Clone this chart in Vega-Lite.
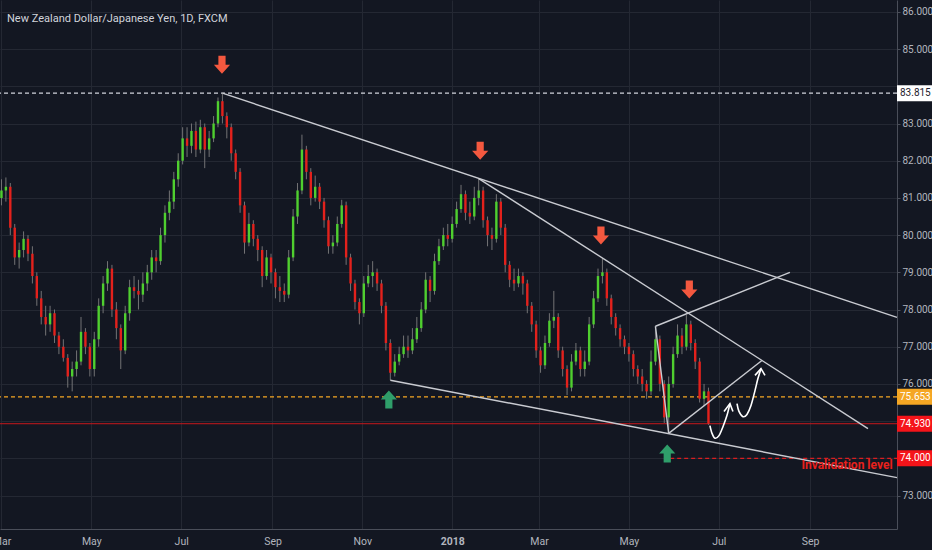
{
  "$schema": "https://vega.github.io/schema/vega-lite/v6.json",
  "description": "NZD/JPY daily candles with trend lines and levels",
  "width": 897,
  "height": 529,
  "autosize": {"type": "none"},
  "padding": {"left": 0, "top": 0, "right": 35, "bottom": 21},
  "background": "#131722",
  "title": {
    "text": "New Zealand Dollar/Japanese Yen, 1D, FXCM",
    "anchor": "start",
    "orient": "top",
    "frame": "group",
    "offset": -24,
    "dx": 7,
    "font": "Roboto",
    "fontSize": 11,
    "fontWeight": "normal",
    "color": "#d1d4dc"
  },
  "datasets": {
    "candles": [
      {"d":"2017-03-01","o":81.0,"h":81.5,"l":80.8,"c":81.2},
      {"d":"2017-03-04","o":81.2,"h":81.55,"l":80.9,"c":81.3},
      {"d":"2017-03-07","o":81.3,"h":81.4,"l":80.0,"c":80.2},
      {"d":"2017-03-10","o":80.2,"h":80.3,"l":79.2,"c":79.4},
      {"d":"2017-03-13","o":79.4,"h":79.8,"l":79.1,"c":79.6},
      {"d":"2017-03-16","o":79.6,"h":80.1,"l":79.4,"c":79.9},
      {"d":"2017-03-19","o":79.9,"h":80.0,"l":79.3,"c":79.5},
      {"d":"2017-03-22","o":79.5,"h":79.7,"l":78.7,"c":78.9},
      {"d":"2017-03-25","o":78.9,"h":79.0,"l":78.1,"c":78.3},
      {"d":"2017-03-28","o":78.3,"h":78.5,"l":77.6,"c":77.8},
      {"d":"2017-03-31","o":77.8,"h":78.1,"l":77.3,"c":77.6},
      {"d":"2017-04-03","o":77.6,"h":78.1,"l":77.4,"c":77.9},
      {"d":"2017-04-06","o":77.9,"h":78.0,"l":77.1,"c":77.3},
      {"d":"2017-04-09","o":77.3,"h":77.4,"l":76.8,"c":77.0},
      {"d":"2017-04-12","o":77.0,"h":77.2,"l":76.6,"c":76.7},
      {"d":"2017-04-15","o":76.7,"h":76.8,"l":75.9,"c":76.2},
      {"d":"2017-04-18","o":76.2,"h":76.6,"l":75.8,"c":76.4},
      {"d":"2017-04-21","o":76.4,"h":76.9,"l":76.2,"c":76.6},
      {"d":"2017-04-24","o":76.6,"h":77.8,"l":76.5,"c":77.4},
      {"d":"2017-04-27","o":77.4,"h":77.5,"l":76.8,"c":77.0},
      {"d":"2017-04-30","o":77.0,"h":77.1,"l":76.2,"c":76.4},
      {"d":"2017-05-03","o":76.4,"h":77.4,"l":76.2,"c":77.2},
      {"d":"2017-05-06","o":77.2,"h":78.3,"l":77.0,"c":78.1},
      {"d":"2017-05-09","o":78.1,"h":78.9,"l":77.9,"c":78.7},
      {"d":"2017-05-12","o":78.7,"h":79.3,"l":78.5,"c":79.1},
      {"d":"2017-05-15","o":79.1,"h":79.2,"l":77.8,"c":78.0},
      {"d":"2017-05-18","o":78.0,"h":78.2,"l":77.2,"c":77.5},
      {"d":"2017-05-21","o":77.5,"h":77.6,"l":76.4,"c":76.9},
      {"d":"2017-05-24","o":76.9,"h":78.1,"l":76.8,"c":77.9},
      {"d":"2017-05-27","o":77.9,"h":78.8,"l":77.7,"c":78.6},
      {"d":"2017-05-30","o":78.6,"h":78.9,"l":78.3,"c":78.5},
      {"d":"2017-06-02","o":78.5,"h":78.8,"l":78.0,"c":78.4},
      {"d":"2017-06-05","o":78.4,"h":79.0,"l":78.2,"c":78.7},
      {"d":"2017-06-08","o":78.7,"h":79.2,"l":78.5,"c":79.0},
      {"d":"2017-06-11","o":79.0,"h":79.6,"l":78.8,"c":79.4},
      {"d":"2017-06-14","o":79.4,"h":79.6,"l":79.0,"c":79.3},
      {"d":"2017-06-17","o":79.3,"h":80.2,"l":79.2,"c":80.0},
      {"d":"2017-06-20","o":80.0,"h":80.8,"l":79.8,"c":80.6},
      {"d":"2017-06-23","o":80.6,"h":81.2,"l":80.4,"c":80.9},
      {"d":"2017-06-26","o":80.9,"h":81.7,"l":80.7,"c":81.5},
      {"d":"2017-06-29","o":81.5,"h":82.2,"l":81.3,"c":82.0},
      {"d":"2017-07-02","o":82.0,"h":82.9,"l":81.9,"c":82.6},
      {"d":"2017-07-05","o":82.6,"h":82.9,"l":82.1,"c":82.4},
      {"d":"2017-07-08","o":82.4,"h":83.0,"l":82.2,"c":82.8},
      {"d":"2017-07-11","o":82.8,"h":83.05,"l":82.1,"c":82.3},
      {"d":"2017-07-14","o":82.3,"h":83.1,"l":82.2,"c":82.9},
      {"d":"2017-07-17","o":82.9,"h":83.0,"l":81.8,"c":82.3},
      {"d":"2017-07-20","o":82.3,"h":82.8,"l":82.1,"c":82.6},
      {"d":"2017-07-23","o":82.6,"h":83.2,"l":82.5,"c":83.0},
      {"d":"2017-07-26","o":83.0,"h":83.7,"l":82.9,"c":83.6},
      {"d":"2017-07-29","o":83.6,"h":83.815,"l":83.0,"c":83.2},
      {"d":"2017-08-01","o":83.2,"h":83.3,"l":82.6,"c":82.9},
      {"d":"2017-08-04","o":82.9,"h":83.0,"l":82.0,"c":82.2},
      {"d":"2017-08-07","o":82.2,"h":82.3,"l":81.5,"c":81.7},
      {"d":"2017-08-10","o":81.7,"h":81.8,"l":80.6,"c":80.8},
      {"d":"2017-08-13","o":80.8,"h":80.9,"l":79.5,"c":79.8},
      {"d":"2017-08-16","o":79.8,"h":80.6,"l":79.7,"c":80.3},
      {"d":"2017-08-19","o":80.3,"h":80.4,"l":79.7,"c":79.9},
      {"d":"2017-08-22","o":79.9,"h":80.0,"l":79.3,"c":79.6},
      {"d":"2017-08-25","o":79.6,"h":79.7,"l":78.6,"c":78.9},
      {"d":"2017-08-28","o":78.9,"h":79.6,"l":78.8,"c":79.4},
      {"d":"2017-08-31","o":79.4,"h":79.5,"l":78.7,"c":79.0},
      {"d":"2017-09-03","o":79.0,"h":79.1,"l":78.3,"c":78.6},
      {"d":"2017-09-06","o":78.6,"h":78.9,"l":78.2,"c":78.5},
      {"d":"2017-09-09","o":78.5,"h":78.7,"l":78.2,"c":78.4},
      {"d":"2017-09-12","o":78.4,"h":79.6,"l":78.3,"c":79.4},
      {"d":"2017-09-15","o":79.4,"h":80.7,"l":79.3,"c":80.5},
      {"d":"2017-09-18","o":80.5,"h":81.4,"l":80.3,"c":81.2},
      {"d":"2017-09-21","o":81.2,"h":82.7,"l":81.1,"c":82.3},
      {"d":"2017-09-24","o":82.3,"h":82.4,"l":81.5,"c":81.7},
      {"d":"2017-09-27","o":81.7,"h":81.8,"l":80.8,"c":81.0},
      {"d":"2017-09-30","o":81.0,"h":81.6,"l":80.9,"c":81.3},
      {"d":"2017-10-03","o":81.3,"h":81.4,"l":80.7,"c":80.9},
      {"d":"2017-10-06","o":80.9,"h":81.0,"l":80.2,"c":80.4},
      {"d":"2017-10-09","o":80.4,"h":80.5,"l":79.5,"c":79.7},
      {"d":"2017-10-12","o":79.7,"h":80.0,"l":79.5,"c":79.8},
      {"d":"2017-10-15","o":79.8,"h":80.5,"l":79.7,"c":80.3},
      {"d":"2017-10-18","o":80.3,"h":80.95,"l":80.2,"c":80.8},
      {"d":"2017-10-21","o":80.8,"h":80.9,"l":79.2,"c":79.4},
      {"d":"2017-10-24","o":79.4,"h":79.5,"l":78.5,"c":78.7},
      {"d":"2017-10-27","o":78.7,"h":78.8,"l":78.0,"c":78.2},
      {"d":"2017-10-30","o":78.2,"h":78.3,"l":77.6,"c":77.9},
      {"d":"2017-11-02","o":77.9,"h":78.9,"l":77.8,"c":78.7},
      {"d":"2017-11-05","o":78.7,"h":79.2,"l":78.6,"c":78.9},
      {"d":"2017-11-08","o":78.9,"h":79.3,"l":78.6,"c":79.0},
      {"d":"2017-11-11","o":79.0,"h":79.1,"l":78.5,"c":78.7},
      {"d":"2017-11-14","o":78.7,"h":78.8,"l":77.9,"c":78.1},
      {"d":"2017-11-17","o":78.1,"h":78.2,"l":76.9,"c":77.1},
      {"d":"2017-11-20","o":77.1,"h":77.2,"l":76.1,"c":76.3},
      {"d":"2017-11-23","o":76.3,"h":76.8,"l":76.2,"c":76.6},
      {"d":"2017-11-26","o":76.6,"h":77.0,"l":76.5,"c":76.8},
      {"d":"2017-11-29","o":76.8,"h":77.3,"l":76.7,"c":77.0},
      {"d":"2017-12-02","o":77.0,"h":77.3,"l":76.7,"c":76.9},
      {"d":"2017-12-05","o":76.9,"h":77.5,"l":76.8,"c":77.2},
      {"d":"2017-12-08","o":77.2,"h":77.8,"l":77.1,"c":77.5},
      {"d":"2017-12-11","o":77.5,"h":78.2,"l":77.4,"c":78.0},
      {"d":"2017-12-14","o":78.0,"h":79.0,"l":77.9,"c":78.8},
      {"d":"2017-12-17","o":78.8,"h":78.9,"l":78.2,"c":78.5},
      {"d":"2017-12-20","o":78.5,"h":79.5,"l":78.4,"c":79.3},
      {"d":"2017-12-23","o":79.3,"h":79.9,"l":79.2,"c":79.7},
      {"d":"2017-12-26","o":79.7,"h":80.2,"l":79.6,"c":80.0},
      {"d":"2017-12-29","o":80.0,"h":80.3,"l":79.7,"c":79.9},
      {"d":"2018-01-01","o":79.9,"h":80.5,"l":79.8,"c":80.3},
      {"d":"2018-01-04","o":80.3,"h":80.9,"l":80.2,"c":80.7},
      {"d":"2018-01-07","o":80.7,"h":81.35,"l":80.6,"c":81.1},
      {"d":"2018-01-10","o":81.1,"h":81.2,"l":80.4,"c":80.6},
      {"d":"2018-01-13","o":80.6,"h":80.9,"l":80.3,"c":80.5},
      {"d":"2018-01-16","o":80.5,"h":81.3,"l":80.4,"c":81.0},
      {"d":"2018-01-19","o":81.0,"h":81.52,"l":80.8,"c":81.2},
      {"d":"2018-01-22","o":81.2,"h":81.3,"l":80.2,"c":80.4},
      {"d":"2018-01-25","o":80.4,"h":80.5,"l":79.7,"c":80.0},
      {"d":"2018-01-28","o":80.0,"h":80.2,"l":79.6,"c":79.9},
      {"d":"2018-01-31","o":79.9,"h":81.1,"l":79.8,"c":80.9},
      {"d":"2018-02-03","o":80.9,"h":81.0,"l":80.0,"c":80.2},
      {"d":"2018-02-06","o":80.2,"h":80.3,"l":79.0,"c":79.2},
      {"d":"2018-02-09","o":79.2,"h":79.3,"l":78.6,"c":78.8},
      {"d":"2018-02-12","o":78.8,"h":79.1,"l":78.5,"c":78.7},
      {"d":"2018-02-15","o":78.7,"h":79.1,"l":78.6,"c":78.9},
      {"d":"2018-02-18","o":78.9,"h":79.0,"l":78.4,"c":78.7},
      {"d":"2018-02-21","o":78.7,"h":78.8,"l":77.9,"c":78.1},
      {"d":"2018-02-24","o":78.1,"h":78.2,"l":77.4,"c":77.6},
      {"d":"2018-02-27","o":77.6,"h":77.7,"l":76.7,"c":76.9},
      {"d":"2018-03-02","o":76.9,"h":77.0,"l":76.3,"c":76.5},
      {"d":"2018-03-05","o":76.5,"h":77.3,"l":76.4,"c":77.1},
      {"d":"2018-03-08","o":77.1,"h":77.9,"l":77.0,"c":77.7},
      {"d":"2018-03-11","o":77.7,"h":78.5,"l":77.5,"c":77.8},
      {"d":"2018-03-14","o":77.8,"h":77.9,"l":76.7,"c":76.9},
      {"d":"2018-03-17","o":76.9,"h":77.0,"l":76.2,"c":76.4},
      {"d":"2018-03-20","o":76.4,"h":76.5,"l":75.7,"c":75.9},
      {"d":"2018-03-23","o":75.9,"h":76.8,"l":75.8,"c":76.6},
      {"d":"2018-03-26","o":76.6,"h":77.1,"l":76.5,"c":76.9},
      {"d":"2018-03-29","o":76.9,"h":77.0,"l":76.2,"c":76.4},
      {"d":"2018-04-01","o":76.4,"h":76.9,"l":76.2,"c":76.6},
      {"d":"2018-04-04","o":76.6,"h":77.8,"l":76.5,"c":77.6},
      {"d":"2018-04-07","o":77.6,"h":78.5,"l":77.5,"c":78.3},
      {"d":"2018-04-10","o":78.3,"h":79.1,"l":78.2,"c":78.9},
      {"d":"2018-04-13","o":78.9,"h":79.38,"l":78.7,"c":79.0},
      {"d":"2018-04-16","o":79.0,"h":79.1,"l":78.1,"c":78.3},
      {"d":"2018-04-19","o":78.3,"h":78.4,"l":77.6,"c":77.8},
      {"d":"2018-04-22","o":77.8,"h":77.9,"l":77.3,"c":77.5},
      {"d":"2018-04-25","o":77.5,"h":77.6,"l":77.0,"c":77.2},
      {"d":"2018-04-28","o":77.2,"h":77.3,"l":76.8,"c":77.0},
      {"d":"2018-05-01","o":77.0,"h":77.1,"l":76.6,"c":76.8},
      {"d":"2018-05-04","o":76.8,"h":76.9,"l":76.2,"c":76.4},
      {"d":"2018-05-07","o":76.4,"h":76.5,"l":76.0,"c":76.2},
      {"d":"2018-05-10","o":76.2,"h":76.4,"l":75.8,"c":76.0},
      {"d":"2018-05-13","o":76.0,"h":76.1,"l":75.6,"c":75.8},
      {"d":"2018-05-16","o":75.8,"h":76.9,"l":75.7,"c":76.6},
      {"d":"2018-05-19","o":76.6,"h":77.55,"l":76.5,"c":77.2},
      {"d":"2018-05-22","o":77.2,"h":77.3,"l":75.8,"c":76.0},
      {"d":"2018-05-25","o":76.0,"h":76.1,"l":74.95,"c":75.1},
      {"d":"2018-05-28","o":75.1,"h":76.2,"l":74.67,"c":76.0},
      {"d":"2018-05-31","o":76.0,"h":77.0,"l":75.9,"c":76.8},
      {"d":"2018-06-03","o":76.8,"h":77.6,"l":76.7,"c":77.3},
      {"d":"2018-06-06","o":77.3,"h":77.5,"l":76.8,"c":77.0},
      {"d":"2018-06-09","o":77.0,"h":77.85,"l":76.9,"c":77.6},
      {"d":"2018-06-12","o":77.6,"h":77.7,"l":76.9,"c":77.1},
      {"d":"2018-06-15","o":77.1,"h":77.2,"l":76.4,"c":76.6},
      {"d":"2018-06-18","o":76.6,"h":76.7,"l":75.5,"c":75.6},
      {"d":"2018-06-21","o":75.6,"h":76.0,"l":75.4,"c":75.8},
      {"d":"2018-06-24","o":75.8,"h":75.9,"l":74.9,"c":74.93}
    ],
    "trend": [
      {"g":"a","d":"2017-07-29","p":83.815},
      {"g":"a","d":"2018-10-30","p":77.79},
      {"g":"b","d":"2018-01-19","p":81.52},
      {"g":"b","d":"2018-10-10T07:00Z","p":74.8},
      {"g":"c","d":"2017-11-20","p":76.1},
      {"g":"c","d":"2018-10-30","p":73.48},
      {"g":"d","d":"2018-05-19","p":77.55},
      {"g":"d","d":"2018-08-18T07:00Z","p":79.0},
      {"g":"e","d":"2018-05-28","p":74.67},
      {"g":"e","d":"2018-07-30T07:00Z","p":76.63},
      {"g":"f","d":"2018-05-19","p":77.55},
      {"g":"f","d":"2018-05-28","p":74.67}
    ],
    "curves": [
      {"g":1,"k":0,"d":"2018-06-25T00:00Z","p":74.88},
      {"g":1,"k":1,"d":"2018-06-26T10:00Z","p":74.67},
      {"g":1,"k":2,"d":"2018-06-28T10:00Z","p":74.54},
      {"g":1,"k":3,"d":"2018-07-01T03:00Z","p":74.61},
      {"g":1,"k":4,"d":"2018-07-03T20:00Z","p":74.85},
      {"g":1,"k":5,"d":"2018-07-06T13:00Z","p":75.15},
      {"g":1,"k":6,"d":"2018-07-08T14:00Z","p":75.47},
      {"g":2,"k":0,"d":"2018-07-13T09:00Z","p":75.47},
      {"g":2,"k":1,"d":"2018-07-14T17:00Z","p":75.26},
      {"g":2,"k":2,"d":"2018-07-17T10:00Z","p":75.12},
      {"g":2,"k":3,"d":"2018-07-20T03:00Z","p":75.18},
      {"g":2,"k":4,"d":"2018-07-22T21:00Z","p":75.42},
      {"g":2,"k":5,"d":"2018-07-25T14:00Z","p":75.82},
      {"g":2,"k":6,"d":"2018-07-27T15:00Z","p":76.15},
      {"g":2,"k":7,"d":"2018-07-29T16:00Z","p":76.41}
    ],
    "heads": [
      {"g":1,"k":0,"d":"2018-07-04T13:00Z","p":75.26},
      {"g":1,"k":1,"d":"2018-07-08T14:00Z","p":75.47},
      {"g":1,"k":2,"d":"2018-07-10T15:00Z","p":75.26},
      {"g":2,"k":0,"d":"2018-07-25T14:00Z","p":76.23},
      {"g":2,"k":1,"d":"2018-07-29T16:00Z","p":76.41},
      {"g":2,"k":2,"d":"2018-08-01T09:00Z","p":76.23}
    ],
    "tops": [
      {"d":"2017-07-28T17:00Z","p":84.58},
      {"d":"2018-01-20","p":82.27},
      {"d":"2018-04-12","p":79.99},
      {"d":"2018-06-11","p":78.54}
    ],
    "bottoms": [
      {"d":"2017-11-19","p":75.58},
      {"d":"2018-05-27","p":74.13}
    ],
    "tags": [
      {"p":83.815,"t":"83.815","k":"high"},
      {"p":75.653,"t":"75.653","k":"support"},
      {"p":74.93,"t":"74.930","k":"close"},
      {"p":74.0,"t":"74.000","k":"invalid"}
    ]
  },
  "layer": [
    {
      "data": {"values": [{"p": 83.815}]},
      "mark": {"type": "rule", "color": "#d1d4dc", "strokeDash": [4, 3], "strokeWidth": 1.2},
      "encoding": {
        "y": {
          "field": "p",
          "type": "quantitative",
          "scale": {"domain": [72.1, 86.32], "nice": false, "zero": false},
          "axis": {
            "orient": "right",
            "title": null,
            "values": [73, 74, 75, 76, 77, 78, 79, 80, 81, 82, 83, 84, 85, 86],
            "labelExpr": "datum.value == 74 || datum.value == 75 || datum.value == 84 ? '' : format(datum.value, '.3f')",
            "grid": true,
            "gridColor": "#242833",
            "domainColor": "#4a4e59",
            "tickColor": "#4a4e59",
            "tickSize": 3,
            "labelPadding": 2,
            "labelColor": "#b2b5be",
            "labelFont": "Roboto",
            "labelFontSize": 10,
            "labelFlush": false
          }
        }
      }
    },
    {
      "data": {"values": [{"p": 75.653}]},
      "mark": {"type": "rule", "color": "#f5a623", "strokeDash": [4, 3], "strokeWidth": 1.2},
      "encoding": {"y": {"field": "p", "type": "quantitative", "title": null}}
    },
    {
      "data": {"values": [{"p": 74.93}]},
      "mark": {"type": "rule", "color": "#c8181c", "strokeWidth": 1},
      "encoding": {"y": {"field": "p", "type": "quantitative", "title": null}}
    },
    {
      "data": {"values": [{"d": "2018-05-29", "d2": "2018-10-30", "p": 74.0}]},
      "mark": {"type": "rule", "color": "#d91e20", "strokeDash": [4, 3], "strokeWidth": 1.2},
      "encoding": {
        "x": {
          "field": "d",
          "type": "temporal",
          "scale": {
            "type": "utc",
            "padding": 0,
            "domain": [
              {"year": 2017, "month": "feb", "date": 28, "utc": true},
              {"year": 2018, "month": "oct", "date": 30, "utc": true}
            ]
          },
          "axis": {
            "title": null,
            "values": [
              {"year": 2017, "month": "mar", "date": 1, "utc": true},
              {"year": 2017, "month": "may", "date": 1, "utc": true},
              {"year": 2017, "month": "jul", "date": 1, "utc": true},
              {"year": 2017, "month": "sep", "date": 1, "utc": true},
              {"year": 2017, "month": "nov", "date": 1, "utc": true},
              {"year": 2018, "month": "jan", "date": 1, "utc": true},
              {"year": 2018, "month": "mar", "date": 1, "utc": true},
              {"year": 2018, "month": "may", "date": 1, "utc": true},
              {"year": 2018, "month": "jul", "date": 1, "utc": true},
              {"year": 2018, "month": "sep", "date": 1, "utc": true}
            ],
            "labelExpr": "utcmonth(datum.value) == 0 ? utcFormat(datum.value, '%Y') : utcFormat(datum.value, '%b')",
            "labelFontWeight": {"condition": {"test": "utcmonth(datum.value) == 0", "value": "bold"}, "value": "normal"},
            "grid": true,
            "gridColor": "#242833",
            "domainColor": "#4a4e59",
            "ticks": false,
            "labelPadding": 7,
            "labelColor": "#b2b5be",
            "labelFont": "Roboto",
            "labelFontSize": 10.5,
            "labelFlush": false,
            "labelOverlap": false
          }
        },
        "x2": {"field": "d2"},
        "y": {"field": "p", "type": "quantitative", "title": null}
      }
    },
    {
      "data": {"name": "candles"},
      "mark": {"type": "rule", "color": "#737375", "strokeWidth": 1},
      "encoding": {
        "x": {"field": "d", "type": "temporal", "title": null},
        "y": {"field": "l", "type": "quantitative", "title": null},
        "y2": {"field": "h"}
      }
    },
    {
      "data": {"name": "candles"},
      "mark": {"type": "bar", "size": 2.4},
      "encoding": {
        "x": {"field": "d", "type": "temporal", "title": null},
        "y": {"field": "o", "type": "quantitative", "title": null},
        "y2": {"field": "c"},
        "color": {"condition": {"test": "datum.c >= datum.o", "value": "#4fcf2f"}, "value": "#e3211c"}
      }
    },
    {
      "data": {"name": "trend"},
      "mark": {"type": "line", "color": "#c9cbd1", "strokeWidth": 1.4},
      "encoding": {
        "x": {"field": "d", "type": "temporal", "title": null},
        "y": {"field": "p", "type": "quantitative", "title": null},
        "detail": {"field": "g"}
      }
    },
    {
      "data": {"name": "curves"},
      "mark": {"type": "line", "color": "#ffffff", "strokeWidth": 1.6, "interpolate": "cardinal"},
      "encoding": {
        "x": {"field": "d", "type": "temporal", "title": null},
        "y": {"field": "p", "type": "quantitative", "title": null},
        "detail": {"field": "g"},
        "order": {"field": "k"}
      }
    },
    {
      "data": {"name": "heads"},
      "mark": {"type": "line", "color": "#ffffff", "strokeWidth": 1.6},
      "encoding": {
        "x": {"field": "d", "type": "temporal", "title": null},
        "y": {"field": "p", "type": "quantitative", "title": null},
        "detail": {"field": "g"},
        "order": {"field": "k"}
      }
    },
    {
      "data": {"name": "tops"},
      "mark": {
        "type": "point",
        "shape": "M-0.4,-1L0.4,-1L0.4,0L0.9,0L0,1L-0.9,0L-0.4,0Z",
        "size": 324,
        "filled": true,
        "opacity": 1,
        "color": "#f4583f"
      },
      "encoding": {
        "x": {"field": "d", "type": "temporal", "title": null},
        "y": {"field": "p", "type": "quantitative", "title": null}
      }
    },
    {
      "data": {"name": "bottoms"},
      "mark": {
        "type": "point",
        "shape": "M-0.4,1L0.4,1L0.4,0L0.9,0L0,-1L-0.9,0L-0.4,0Z",
        "size": 324,
        "filled": true,
        "opacity": 1,
        "color": "#2f9e6a"
      },
      "encoding": {
        "x": {"field": "d", "type": "temporal", "title": null},
        "y": {"field": "p", "type": "quantitative", "title": null}
      }
    },
    {
      "data": {"values": [{"d": "2018-10-27", "p": 73.81, "t": "Invalidation level"}]},
      "mark": {
        "type": "text",
        "align": "right",
        "baseline": "middle",
        "font": "Roboto",
        "fontSize": 12,
        "fontWeight": "bold",
        "color": "#e8211c"
      },
      "encoding": {
        "x": {"field": "d", "type": "temporal", "title": null},
        "y": {"field": "p", "type": "quantitative", "title": null},
        "text": {"field": "t"}
      }
    },
    {
      "data": {"name": "tags"},
      "mark": {
        "type": "point",
        "shape": "M0,-0.8L3.6,-0.8L3.6,0.8L0,0.8Z",
        "size": 400,
        "filled": true,
        "opacity": 1,
        "clip": false
      },
      "encoding": {
        "x": {"datum": {"year": 2018, "month": "oct", "date": 30, "utc": true}, "type": "temporal", "title": null},
        "y": {"field": "p", "type": "quantitative", "title": null},
        "fill": {
          "field": "k",
          "type": "nominal",
          "scale": {"domain": ["high", "support", "close", "invalid"], "range": ["#ffffff", "#f5a623", "#f5141a", "#f5141a"]},
          "legend": null
        }
      }
    },
    {
      "data": {"name": "tags"},
      "mark": {
        "type": "text",
        "align": "left",
        "baseline": "middle",
        "dx": 3,
        "font": "Roboto",
        "fontSize": 10,
        "clip": false
      },
      "encoding": {
        "x": {"datum": {"year": 2018, "month": "oct", "date": 30, "utc": true}, "type": "temporal", "title": null},
        "y": {"field": "p", "type": "quantitative", "title": null},
        "text": {"field": "t"},
        "fill": {"condition": {"test": "datum.k == 'high'", "value": "#1e222d"}, "value": "#ffffff"}
      }
    }
  ],
  "config": {"view": {"stroke": null}}
}
